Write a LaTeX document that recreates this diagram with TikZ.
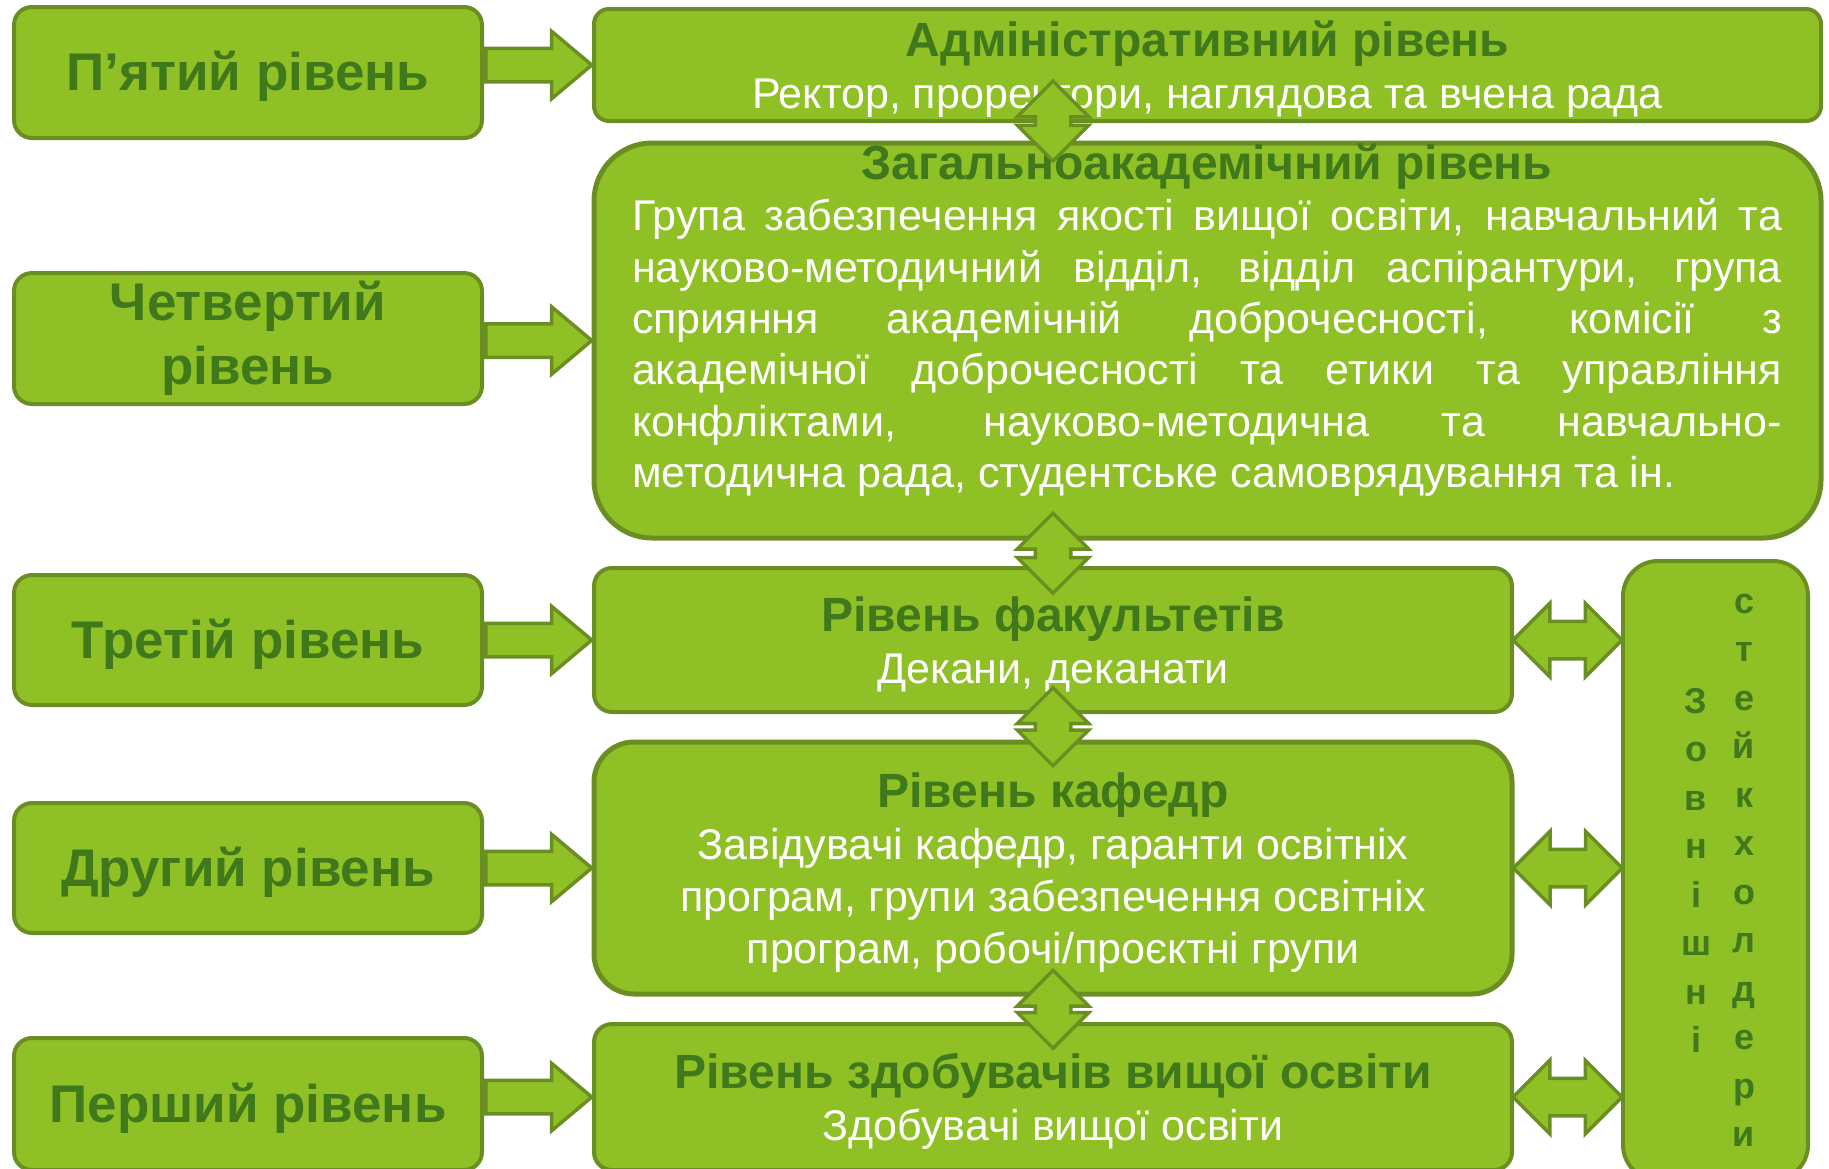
\documentclass[tikz,border=0pt]{standalone}
\usepackage{fontspec}
\setmainfont{Liberation Sans}
\usetikzlibrary{shapes.arrows,positioning,calc}
\definecolor{limegreen}{RGB}{143,193,38}
\definecolor{olivegreen}{RGB}{107,142,35}
\definecolor{titlegreen}{RGB}{64,120,28}
% strut with the ascent and descent of the font's line box
\newcommand\linestrut{\rule[-0.212em]{0pt}{1.117em}}
\newcommand\leveltitle[1]{{\bfseries\color{titlegreen}\fontsize{48}{52}\selectfont\linestrut #1}}

\begin{document}
\begin{tikzpicture}[
        x=1pt, y=-1pt,
        font=\fontsize{43}{52}\selectfont
    ]
    \tikzset{
        levelbox/.style = {rectangle, rounded corners=18pt, draw=olivegreen, line width=4pt,
            fill=limegreen, text=titlegreen, font=\bfseries\fontsize{53}{64}\selectfont,
            align=center, minimum width=468pt, minimum height=131pt, inner sep=0pt,
            execute at begin node=\linestrut, execute at end node=\linestrut},
        unitbox/.style = {rectangle, rounded corners=18pt, draw=olivegreen, line width=4pt,
            fill=limegreen, text=white, align=center, inner sep=0pt,
            execute at end node=\linestrut},
        rarrow/.style = {single arrow, draw=olivegreen, fill=limegreen, line width=3.5pt,
            single arrow head extend=17pt, single arrow tip angle=80,
            inner xsep=0pt, inner ysep=15pt, minimum height=106pt, anchor=west},
        harrow/.style = {double arrow, draw=olivegreen, fill=limegreen, line width=3.5pt,
            double arrow head extend=18pt, inner xsep=0pt, inner ysep=17pt, minimum height=109pt},
        varrow/.style = {double arrow, rotate=90, draw=olivegreen, fill=limegreen,
            line width=3.5pt, double arrow head extend=18pt, inner xsep=0pt, inner ysep=16pt,
            minimum height=78pt},
        stackcol/.style = {text=titlegreen, font=\bfseries\fontsize{36}{48.5}\selectfont,
            align=center, inner sep=0pt},
    }
    \useasboundingbox (0,0) rectangle (1829,1168);
    \clip (0,0) rectangle (1829,1168);
    % levels
    \node[levelbox] at (248,72.5) (l5) {П’ятий рівень};
    \node[levelbox] at (248,338.5) (l4) {Четвертий\\рівень};
    \node[levelbox, minimum height=130pt] at (248,640) (l3) {Третій рівень};
    \node[levelbox, minimum height=130pt] at (248,868) (l2) {Другий рівень};
    \node[levelbox, minimum height=132pt] at (248,1104) (l1) {Перший рівень};
    %
    \node[unitbox, minimum width=1227pt, minimum height=112pt, rounded corners=15pt] at (1207.5,65) (adm)
        {\leveltitle{Адміністративний рівень}\\Ректор, проректори, наглядова та вчена рада};
    \node[unitbox, minimum width=1227pt, minimum height=395pt, rounded corners=58pt, line width=5pt] at (1207.5,340.5) (zag) {};
    \node[text=white, text width=1150pt, align=justify, inner sep=0pt, anchor=north,
        font=\fontsize{43}{51.3}\selectfont] at (1207,136) (zagtext)
        {\hyphenpenalty=10000 \tolerance=10000
        \centerline{\leveltitle{Загальноакадемічний рівень}}
        Група забезпечення якості вищої освіти, навчальний та\linebreak
        науково-методичний відділ, відділ аспірантури, група\linebreak
        сприяння академічній доброчесності, комісії з\linebreak
        академічної доброчесності та етики та управління\linebreak
        конфліктами, науково-методична та навчально-\linebreak
        методична рада, студентське самоврядування та ін.};
    \node[unitbox, minimum width=918pt, minimum height=144pt] at (1053,640) (fac)
        {\leveltitle{Рівень факультетів}\\Декани, деканати};
    \node[unitbox, minimum width=918pt, minimum height=252pt, rounded corners=40pt, line width=5pt] at (1053,868) (kaf)
        {\leveltitle{Рівень кафедр}\\Завідувачі кафедр, гаранти освітніх\\програм, групи забезпечення освітніх\\програм, робочі/проєктні групи};
    \node[unitbox, minimum width=918pt, minimum height=146pt] at (1053,1097) (zdo)
        {\leveltitle{Рівень здобувачів вищої освіти}\\Здобувачі вищої освіти};
    \node[unitbox, minimum width=185pt, minimum height=619pt, rounded corners=35pt] at (1715.5,870.5) (ext) {};
    \node[stackcol] at ($(ext.center)+(-19.5,0)$) (extA) {З\\о\\в\\н\\і\\ш\\н\\і};
    \node[stackcol] at ($(ext.center)+(28.5,0)$) (extB) {с\\т\\е\\й\\к\\х\\о\\л\\д\\е\\р\\и};
    %
    \node[rarrow] at (l5.east |- adm.west) {};
    \node[rarrow] at (l4.east |- zag.west) {};
    \node[rarrow] at (l3.east |- fac.west) {};
    \node[rarrow] at (l2.east |- kaf.west) {};
    \node[rarrow] at (l1.east |- zdo.west) {};
    %
    \node[harrow] at ($(fac.east)!0.5!(fac.east -| ext.west)$) {};
    \node[harrow] at ($(kaf.east)!0.5!(kaf.east -| ext.west)$) {};
    \node[harrow] at ($(zdo.east)!0.5!(zdo.east -| ext.west)$) {};
    %
    \node[varrow, minimum height=80pt] at ($(fac.north |- adm.south)+(0,-2)$) {};
    \node[varrow, minimum height=80pt] at ($(fac.north |- zag.south)!0.5!(fac.north)$) {};
    \node[varrow] at ($(fac.south)!0.5!(kaf.north)$) {};
    \node[varrow] at ($(kaf.south)!0.5!(zdo.north)$) {};
\end{tikzpicture}
\end{document}
